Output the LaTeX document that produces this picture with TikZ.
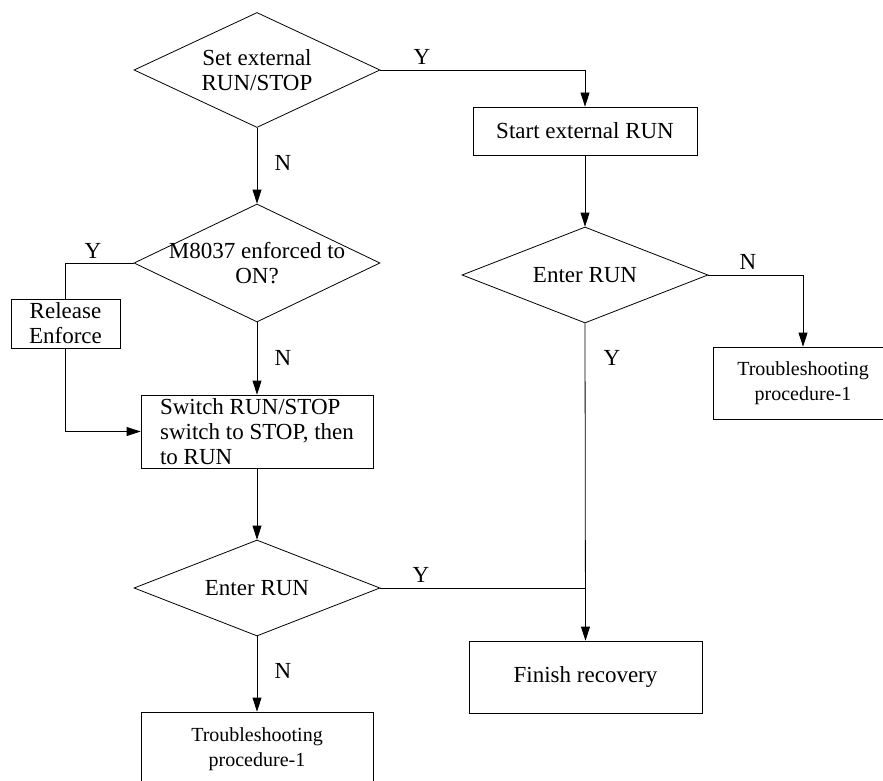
\documentclass[tikz,border=0pt]{standalone}
\usepackage{fontspec}
\setmainfont{Liberation Serif}
\usetikzlibrary{arrows.meta,shapes.geometric,calc}

\begin{document}
\begin{tikzpicture}[
  x=1pt, y=-1pt,
  txt/.style={font=\fontsize{23}{25}\selectfont},
  box/.style={draw, line width=0.8pt, inner sep=2pt, align=center, txt},
  dia/.style={diamond, draw, line width=0.8pt, inner sep=0pt, minimum width=246pt},
  lab/.style={txt, inner sep=0pt},
  arr/.style={-{Triangle[length=14pt, width=9pt]}, line width=0.8pt},
  conn/.style={line width=0.8pt}
]
\useasboundingbox (0,0) rectangle (883,781);

% Left column: decisions
\node[dia, minimum height=115pt, label={[txt, align=center]center:Set external\\RUN/STOP}] (d1) at (257,70) {};
\node[dia, minimum height=118pt, label={[txt, align=center]center:M8037 enforced to\\ON?}] (d2) at (257,263) {};
\node[box, minimum width=109pt, minimum height=49pt] (rel) at (65.5,323.5) {Release\\Enforce};
\node[box, align=left, minimum width=232pt, minimum height=73pt] (sw) at (257,431.5) {Switch RUN/STOP\\switch to STOP, then\\to RUN};
\node[dia, minimum height=96pt, label={[txt]center:Enter RUN}] (d3) at (257,588) {};
\node[box, font=\fontsize{20}{25}\selectfont, minimum width=232pt, minimum height=74pt] (tb1) at (257,749) {Troubleshooting\\procedure-1};

% Right column: external run
\node[box, minimum width=224pt, minimum height=48pt] (start) at (585,131) {Start external RUN};
\node[dia, minimum height=96pt, label={[txt]center:Enter RUN}] (dr) at (585,275) {};
\node[box, font=\fontsize{20}{25}\selectfont, minimum width=180pt, minimum height=72pt] (tr) at (803,383) {Troubleshooting\\procedure-1};
\node[box, minimum width=233pt, minimum height=72pt] (fin) at (585.5,677) {Finish recovery};

% Branch labels
\node[lab] (y1) at (422,57) {Y};
\node[lab] (n1) at (283,163) {N};
\node[lab] (y2) at (93,251) {Y};
\node[lab] (n2) at (283,358) {N};
\node[lab] (y3) at (421,575) {Y};
\node[lab] (n3) at (283,671) {N};
\node[lab] (n4) at (748,262) {N};
\node[lab] (y4) at (612,358) {Y};

% Straight arrows
\foreach \a/\b in {d1/d2, d2/sw, sw/d3, d3/tb1, start/dr, dr/fin} {
  \draw[arr] (\a.south) -- (\b.north);
}

% Elbow connectors
\draw[arr] (d1.east) -| (start.north);
\draw[conn] (d2.west) -| (rel.north);
\draw[arr] (rel.south) |- (sw.west);
\draw[arr] (dr.east) -| (tr.north);

% Y branch joins the right column
\coordinate (jn) at (dr.south |- d3.east);
\draw[conn] (d3.east) -- (jn);

\end{tikzpicture}
\end{document}
